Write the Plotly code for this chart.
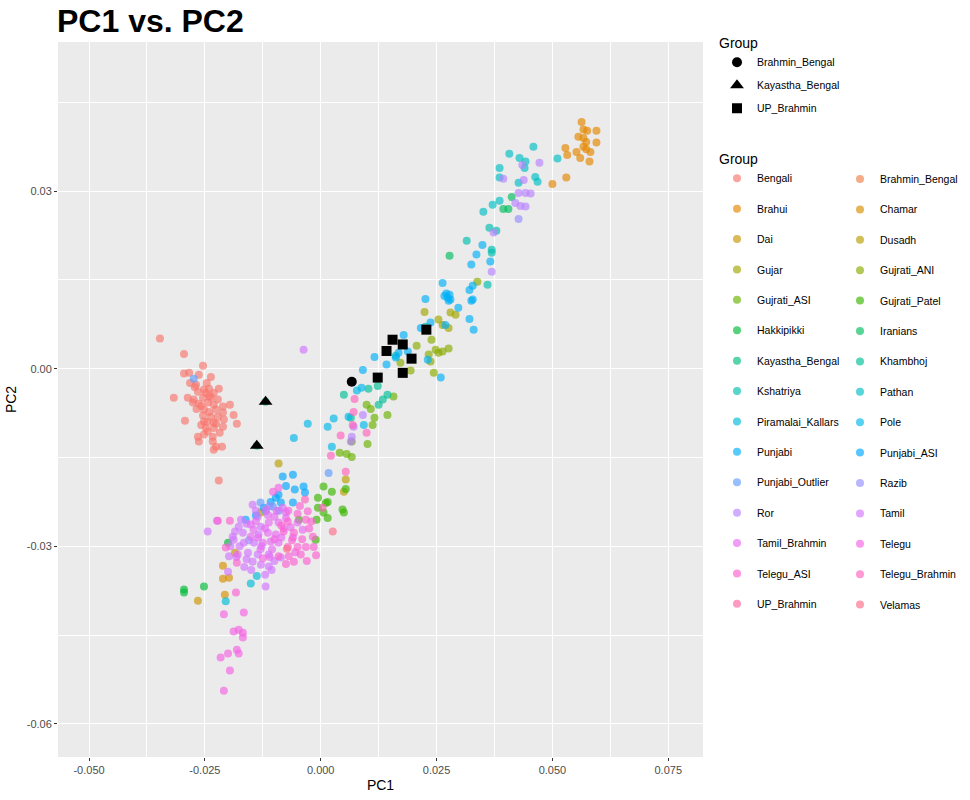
import math
import plotly.graph_objects as go

# ---------------- data (PC1, PC2) ----------------
GROUPS = ["Bengali", "Brahmin_Bengal", "Brahui", "Chamar", "Dai", "Dusadh", "Gujar",
          "Gujrati_ANI", "Gujrati_ASI", "Gujrati_Patel", "Hakkipikki", "Iranians",
          "Kayastha_Bengal", "Khambhoj", "Kshatriya", "Pathan", "Piramalai_Kallars",
          "Pole", "Punjabi", "Punjabi_ASI", "Punjabi_Outlier", "Razib", "Ror", "Tamil",
          "Tamil_Brahmin", "Telegu", "Telegu_ASI", "Telegu_Brahmin", "UP_Brahmin", "Velamas"]

bengali = [(-0.0347, 0.0051), (-0.0295, 0.0025), (-0.0254, 0.0005), (-0.0295, -0.0008), (-0.0284, -0.0007),
           (-0.0263, -0.0010), (-0.0237, -0.0014), (-0.0282, -0.0024), (-0.0269, -0.0027), (-0.0252, -0.0035),
           (-0.0241, -0.0034), (-0.0220, -0.0034), (-0.0265, -0.0039), (-0.0248, -0.0041), (-0.0231, -0.0041),
           (-0.0317, -0.0049), (-0.0287, -0.0049), (-0.0274, -0.0052), (-0.0254, -0.0049), (-0.0237, -0.0049),
           (-0.0222, -0.0052), (-0.0276, -0.0057), (-0.0263, -0.0059), (-0.0244, -0.0057), (-0.0231, -0.0061),
           (-0.0211, -0.0064), (-0.0196, -0.0061), (-0.0252, -0.0069), (-0.0241, -0.0073), (-0.0226, -0.0069),
           (-0.0211, -0.0074), (-0.0188, -0.0078), (-0.0254, -0.0079), (-0.0237, -0.0081), (-0.0222, -0.0081),
           (-0.0293, -0.0088), (-0.0252, -0.0089), (-0.0231, -0.0091), (-0.0209, -0.0086), (-0.0181, -0.0093),
           (-0.0248, -0.0100), (-0.0231, -0.0100), (-0.0211, -0.0098), (-0.0252, -0.0111), (-0.0233, -0.0115),
           (-0.0263, -0.0123), (-0.0233, -0.0123), (-0.0226, -0.0132), (-0.0213, -0.0132), (-0.0231, -0.0137),
           (-0.0244, -0.0106), (-0.0265, -0.0115), (-0.0220, -0.0189), (-0.0258, -0.0063), (-0.0245, -0.0090),
           (-0.0268, -0.0068), (-0.0240, -0.0046), (-0.0226, -0.0093), (-0.0258, -0.0095), (-0.0218, -0.0108),
           (-0.0272, -0.0031), (-0.0246, -0.0024)]
brahmin_bengal = [(0.0067, -0.0022)]
brahui = [(0.0563, 0.0417), (0.0567, 0.0404), (0.0575, 0.0402), (0.0595, 0.0402), (0.0556, 0.0392),
          (0.0567, 0.0390), (0.0573, 0.0383), (0.0595, 0.0382), (0.0528, 0.0373), (0.0552, 0.0366),
          (0.0573, 0.0371), (0.0582, 0.0366), (0.0532, 0.0361), (0.0560, 0.0356), (0.0580, 0.0350),
          (0.0530, 0.0323), (0.0500, 0.0312), (0.0567, 0.0375)]
chamar = [(-0.0211, -0.0333), (-0.0211, -0.0355), (-0.0198, -0.0353), (-0.0207, -0.0382)]
dai = [(-0.0265, -0.0392), (-0.0185, -0.0311)]
dusadh = [(-0.0091, -0.0160), (-0.0129, -0.0243), (0.0054, -0.0187), (0.0050, -0.0208)]
gujar = [(0.0224, 0.0096), (0.0254, 0.0083), (0.0263, 0.0074), (0.0280, 0.0095), (0.0291, 0.0091), (0.0276, 0.0069)]
gujrati_ani = [(0.0239, 0.0049), (0.0207, 0.0039), (0.0233, 0.0024), (0.0263, 0.0029), (0.0276, 0.0034),
               (0.0244, -0.0007), (0.0194, -0.0003), (0.0237, 0.0012), (0.0172, 0.0010), (0.0338, 0.0147),
               (0.0254, 0.0027), (0.0248, 0.0032)]
gujrati_asi = [(0.0157, -0.0047), (0.0099, -0.0061), (0.0108, -0.0068), (0.0116, -0.0083), (0.0112, -0.0095),
               (0.0144, -0.0078), (0.0101, -0.0127), (0.0067, -0.0123), (0.0041, -0.0142), (0.0056, -0.0144),
               (0.0067, -0.0149)]
gujrati_patel = [(0.0054, -0.0203), (0.0006, -0.0199), (0.0024, -0.0208), (-0.0006, -0.0218), (0.0015, -0.0225),
                 (-0.0006, -0.0235), (0.0006, -0.0243), (0.0047, -0.0238), (-0.0009, -0.0255), (0.0015, -0.0252),
                 (-0.0011, -0.0289), (-0.0047, -0.0255), (0.0011, -0.0227), (0.0050, -0.0243)]
hakkipikki = [(-0.0295, -0.0373), (-0.0295, -0.0378), (-0.0252, -0.0368), (-0.0200, -0.0294)]
iranians = [(0.0394, 0.0270), (0.0405, 0.0270), (0.0412, 0.0290), (0.0278, 0.0191)]
kayastha_bengal = [(-0.0119, -0.0056), (-0.0138, -0.0130)]
khambhoj = [(0.0103, -0.0034), (0.0123, -0.0029), (0.0050, -0.0044), (0.0144, -0.0044), (0.0134, -0.0052),
            (0.0125, -0.0061), (0.0065, -0.0083)]
kshatriya = [(0.0315, 0.0216), (0.0364, 0.0238), (0.0379, 0.0233), (0.0369, 0.0201), (0.0369, 0.0196),
             (0.0360, 0.0142), (0.0226, 0.0071), (0.0162, 0.0022)]
pathan = [(0.0459, 0.0375), (0.0407, 0.0363), (0.0429, 0.0356), (0.0442, 0.0350), (0.0440, 0.0339),
          (0.0386, 0.0339), (0.0386, 0.0323), (0.0463, 0.0324), (0.0468, 0.0316), (0.0427, 0.0314),
          (0.0511, 0.0355), (0.0386, 0.0284), (0.0371, 0.0277), (0.0351, 0.0265)]
piramalai_kallars = [(-0.0205, -0.0393), (-0.0151, -0.0363), (-0.0138, -0.0350)]
pole = [(0.0078, -0.0037), (0.0088, -0.0032), (0.0028, -0.0084), (0.0015, -0.0098), (-0.0028, -0.0093),
        (-0.0058, -0.0117), (0.0024, -0.0132), (0.0093, -0.0095), (0.0060, -0.0081)]
punjabi = [(0.0263, 0.0145), (0.0321, 0.0133), (0.0328, 0.0140), (0.0325, 0.0176), (0.0336, 0.0193),
           (0.0349, 0.0209), (0.0366, 0.0181), (0.0328, 0.0117), (0.0274, 0.0120), (0.0280, 0.0117),
           (0.0226, 0.0118), (0.0267, 0.0123), (0.0278, 0.0125), (0.0297, 0.0103), (0.0321, 0.0084),
           (0.0330, 0.0066), (0.0237, 0.0078), (0.0216, 0.0069), (0.0269, 0.0074), (0.0179, 0.0057),
           (0.0116, 0.0020), (0.0142, 0.0007), (0.0162, 0.0019), (0.0259, -0.0015), (0.0091, -0.0002),
           (0.0168, 0.0027), (0.0188, 0.0029), (0.0231, 0.0015), (0.0325, 0.0115), (0.0271, 0.0127),
           (0.0276, 0.0115)]
punjabi_asi = [(-0.0082, -0.0182), (-0.0060, -0.0179), (-0.0075, -0.0198), (-0.0056, -0.0204), (-0.0037, -0.0199),
               (-0.0034, -0.0209), (-0.0097, -0.0218), (-0.0091, -0.0213), (-0.0108, -0.0225), (-0.0086, -0.0226),
               (-0.0060, -0.0226), (-0.0123, -0.0235), (-0.0162, -0.0255), (-0.0140, -0.0248)]
punjabi_outlier = [(-0.0274, -0.0017), (-0.0119, -0.0241), (-0.0103, -0.0233), (0.0017, -0.0176),
                   (-0.0130, -0.0226), (-0.0090, -0.0240)]
razib = [(0.0427, 0.0253), (-0.0110, -0.0232), (-0.0155, -0.0290)]
ror = [(0.0472, 0.0348), (0.0435, 0.0344), (0.0394, 0.0321), (0.0438, 0.0319), (0.0427, 0.0297),
       (0.0442, 0.0297), (0.0453, 0.0296), (0.0420, 0.0280), (0.0431, 0.0275), (0.0442, 0.0274),
       (0.0373, 0.0230), (0.0369, 0.0164), (0.0091, -0.0078), (0.0071, -0.0098), (0.0067, -0.0115),
       (0.0065, -0.0123)]
tamil = [(-0.0147, -0.0230), (-0.0136, -0.0250), (-0.0177, -0.0267), (-0.0129, -0.0267), (-0.0190, -0.0284),
         (-0.0168, -0.0277), (-0.0134, -0.0280), (-0.0188, -0.0289), (-0.0166, -0.0294), (-0.0144, -0.0294),
         (-0.0198, -0.0317), (-0.0157, -0.0311), (-0.0136, -0.0314), (-0.0112, -0.0314), (-0.0147, -0.0326),
         (-0.0129, -0.0331), (-0.0112, -0.0334), (-0.0086, -0.0319), (-0.0119, -0.0368), (-0.0200, -0.0343),
         (-0.0244, -0.0275), (-0.0037, 0.0032), (-0.0224, -0.0257), (-0.0160, -0.0262), (-0.0175, -0.0300),
         (-0.0150, -0.0340), (-0.0120, -0.0348), (-0.0185, -0.0275), (-0.0160, -0.0322), (-0.0100, -0.0325),
         (-0.0172, -0.0255), (-0.0140, -0.0240), (-0.0195, -0.0300), (-0.0182, -0.0318), (-0.0165, -0.0335),
         (-0.0128, -0.0300), (-0.0106, -0.0340)]
tamil_brahmin = [(-0.0082, -0.0235), (-0.0114, -0.0247), (-0.0075, -0.0243), (-0.0151, -0.0263), (-0.0112, -0.0260),
                 (-0.0091, -0.0260), (-0.0050, -0.0260), (-0.0151, -0.0284), (-0.0114, -0.0277), (-0.0097, -0.0280),
                 (-0.0039, -0.0272), (-0.0125, -0.0294), (-0.0108, -0.0292), (-0.0091, -0.0294), (-0.0179, -0.0314),
                 (-0.0120, -0.0270), (-0.0100, -0.0250), (-0.0085, -0.0285), (-0.0130, -0.0305), (-0.0065, -0.0268),
                 (-0.0105, -0.0305), (-0.0140, -0.0258), (-0.0075, -0.0252), (-0.0118, -0.0238), (-0.0095, -0.0240),
                 (-0.0080, -0.0270), (-0.0135, -0.0285), (-0.0110, -0.0318), (-0.0060, -0.0285), (-0.0145, -0.0272)]
telegu = [(-0.0209, -0.0415), (-0.0166, -0.0412), (-0.0188, -0.0444), (-0.0177, -0.0441), (-0.0168, -0.0446),
          (-0.0168, -0.0454), (-0.0216, -0.0488), (-0.0200, -0.0481), (-0.0181, -0.0475), (-0.0177, -0.0481),
          (-0.0196, -0.0510), (-0.0209, -0.0544), (-0.0103, -0.0208), (-0.0091, -0.0201),
          (-0.0100, -0.0288), (-0.0070, -0.0240), (-0.0125, -0.0320), (-0.0055, -0.0310)]
telegu_asi = [(-0.0222, -0.0257), (-0.0196, -0.0257), (-0.0050, -0.0245), (-0.0028, -0.0241), (-0.0071, -0.0258),
              (-0.0032, -0.0255), (-0.0080, -0.0275), (-0.0058, -0.0277), (-0.0017, -0.0284), (-0.0205, -0.0302),
              (-0.0071, -0.0301), (-0.0050, -0.0301), (-0.0032, -0.0301), (-0.0015, -0.0301), (-0.0091, -0.0317),
              (-0.0069, -0.0317), (-0.0043, -0.0314), (-0.0181, -0.0328), (-0.0058, -0.0326), (-0.0183, -0.0378),
              (-0.0040, -0.0288), (-0.0062, -0.0290), (-0.0025, -0.0270), (-0.0085, -0.0265),
              (-0.0020, -0.0258), (-0.0045, -0.0232), (-0.0010, -0.0315), (-0.0075, -0.0330), (-0.0030, -0.0325)]
telegu_brahmin = [(0.0073, -0.0051), (0.0071, -0.0073), (0.0069, -0.0095), (0.0099, -0.0108), (0.0043, -0.0113),
                  (0.0022, -0.0147), (0.0054, -0.0174), (0.0004, -0.0235), (-0.0034, -0.0221)]
up_brahmin = [(0.0155, 0.0049), (0.0177, 0.0041), (0.0142, 0.0030), (0.0196, 0.0017), (0.0123, -0.0015),
              (0.0177, -0.0007), (0.0228, 0.0066)]
velamas = [(0.0026, -0.0275), (-0.0073, -0.0304)]

GROUP_POINTS = [bengali, brahmin_bengal, brahui, chamar, dai, dusadh, gujar, gujrati_ani, gujrati_asi,
                gujrati_patel, hakkipikki, iranians, kayastha_bengal, khambhoj, kshatriya, pathan,
                piramalai_kallars, pole, punjabi, punjabi_asi, punjabi_outlier, razib, ror, tamil,
                tamil_brahmin, telegu, telegu_asi, telegu_brahmin, up_brahmin, velamas]

HIGHLIGHT = ["Brahmin_Bengal", "Kayastha_Bengal", "UP_Brahmin"]
HIGHLIGHT_SYMBOLS = ["circle", "triangle-up", "square"]
HIGHLIGHT_SIZES = [10, 12, 10]

X_TICKS = [-0.05, -0.025, 0.0, 0.025, 0.05, 0.075]
X_TICKTEXT = ["-0.050", "-0.025", "0.000", "0.025", "0.050", "0.075"]
X_MINOR = [-0.0375, -0.0125, 0.0125, 0.0375, 0.0625]
Y_TICKS = [-0.06, -0.03, 0.0, 0.03]
Y_TICKTEXT = ["-0.06", "-0.03", "0.00", "0.03"]
Y_MINOR = [-0.045, -0.015, 0.015, 0.045]


# ggplot2 default hue palette: hcl(h, c=100, l=65)
def hcl_hex(h, c=100.0, l=65.0):
    Xn, Yn, Zn = 95.047, 100.0, 108.883
    den = Xn + 15 * Yn + 3 * Zn
    un, vn = 4 * Xn / den, 9 * Yn / den
    u = c * math.cos(math.radians(h))
    v = c * math.sin(math.radians(h))
    Y = Yn * ((l + 16) / 116) ** 3
    up = u / (13 * l) + un
    vp = v / (13 * l) + vn
    X = Y * 9 * up / (4 * vp)
    Z = Y * (12 - 3 * up - 20 * vp) / (4 * vp)
    X, Y, Z = X / 100, Y / 100, Z / 100
    rgb = [3.240479 * X - 1.537150 * Y - 0.498535 * Z,
           -0.969256 * X + 1.875992 * Y + 0.041556 * Z,
           0.055648 * X - 0.204043 * Y + 1.057311 * Z]
    out = []
    for ch in rgb:
        ch = 12.92 * ch if ch <= 0.0031308 else 1.055 * ch ** (1 / 2.4) - 0.055
        out.append(int(round(max(0.0, min(1.0, ch)) * 255)))
    return "#%02X%02X%02X" % tuple(out)


n = len(GROUPS)
COLORS = [hcl_hex(15 + 360.0 * i / n) for i in range(n)]

fig = go.Figure()

for i, (name, pts) in enumerate(zip(GROUPS, GROUP_POINTS)):
    fig.add_trace(go.Scatter(
        x=[p[0] for p in pts], y=[p[1] for p in pts],
        mode="markers", name=name, legendgroup="c_" + name,
        legend="legend2" if i % 2 == 0 else "legend3",
        marker=dict(color=COLORS[i], size=8, opacity=0.66, line=dict(width=0)),
        hovertemplate=name + "<br>PC1=%{x}<br>PC2=%{y}<extra></extra>",
    ))

for name, sym, sz in zip(HIGHLIGHT, HIGHLIGHT_SYMBOLS, HIGHLIGHT_SIZES):
    pts = GROUP_POINTS[GROUPS.index(name)]
    fig.add_trace(go.Scatter(
        x=[p[0] for p in pts], y=[p[1] for p in pts],
        mode="markers", name=name, legendgroup="s_" + name, legend="legend",
        marker=dict(color="black", size=sz, symbol=sym, line=dict(width=0)),
        hovertemplate=name + "<br>PC1=%{x}<br>PC2=%{y}<extra></extra>",
    ))

FONT = "Liberation Sans, Arial, Helvetica, sans-serif"
axis_common = dict(
    showgrid=True, gridcolor="white", gridwidth=1.2, zeroline=False, showline=False,
    ticks="outside", ticklen=3, tickwidth=1, tickcolor="#333333", automargin=False,
    tickfont=dict(family=FONT, size=11, color="#4D4D4D"),
)

fig.update_layout(
    width=970, height=800,
    margin=dict(l=58, r=267, t=42, b=43, autoexpand=False),
    paper_bgcolor="white", plot_bgcolor="#EBEBEB",
    font=dict(family=FONT, color="black"),
    title=dict(text="<b>PC1 vs. PC2</b>", x=57 / 970, xanchor="left", xref="container",
               y=1 - 21 / 800, yanchor="middle", yref="container",
               font=dict(family=FONT, size=32, color="black")),
    xaxis=dict(range=[-0.0567, 0.0825], tickmode="array", tickvals=X_TICKS, ticktext=X_TICKTEXT,
               minor=dict(tickmode="array", tickvals=X_MINOR, showgrid=True, gridcolor="white",
                          gridwidth=0.6, ticks=""),
               title=dict(text="PC1", font=dict(family=FONT, size=14, color="black"), standoff=4),
               **axis_common),
    yaxis=dict(range=[-0.0656, 0.0552], tickmode="array", tickvals=Y_TICKS, ticktext=Y_TICKTEXT,
               minor=dict(tickmode="array", tickvals=Y_MINOR, showgrid=True, gridcolor="white",
                          gridwidth=0.6, ticks=""),
               title=dict(text="PC2", font=dict(family=FONT, size=14, color="black"), standoff=6),
               **axis_common),
    legend=dict(x=1.0217, xanchor="left", y=1.0175, yanchor="top", bgcolor="rgba(0,0,0,0)",
                title=dict(text="Group", font=dict(family=FONT, size=14)),
                font=dict(family=FONT, size=10.5), tracegroupgap=4, itemclick=False),
    legend2=dict(x=1.0217, xanchor="left", y=0.8552, yanchor="top", bgcolor="rgba(0,0,0,0)",
                 title=dict(text="Group", font=dict(family=FONT, size=14)),
                 font=dict(family=FONT, size=10.5), tracegroupgap=11.4, itemclick=False),
    legend3=dict(x=1.2124, xanchor="left", y=0.8287, yanchor="top", bgcolor="rgba(0,0,0,0)",
                 font=dict(family=FONT, size=10.5), tracegroupgap=11.4, itemclick=False),
    showlegend=True,
)

# the page body has a default 8px margin; remove it so the 970x800 figure fills the window
fig.write_html("out.html", config={"displayModeBar": False},
               post_script="document.body.style.margin='0';")
